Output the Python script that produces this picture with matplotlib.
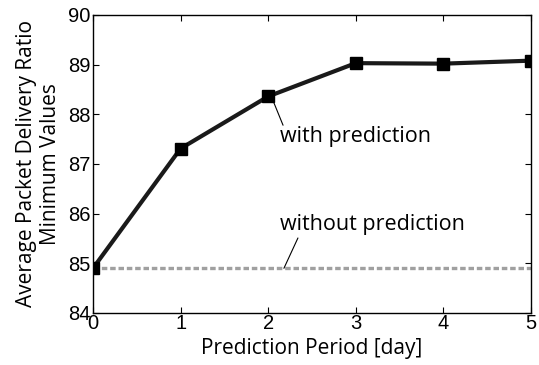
import numpy as np
import matplotlib
matplotlib.use('Agg')
import matplotlib.pyplot as plt

# prediction period vs. minimum delivery ratio
period = [0, 1, 2, 3, 4, 5]
with_pred = [84.9, 87.31, 88.36, 89.03, 89.02, 89.08]
without_pred = 84.9

fig = plt.figure(figsize=(5.39, 3.65), dpi=100)
ax = fig.add_axes([0.1725, 0.1425, 0.8125, 0.8165])

ax.axhline(without_pred, color='#a0a0a0', lw=2.4, ls=(0, (1.65, 0.85)), zorder=2)
ax.plot(period, with_pred, color='#1a1a1a', lw=3, marker='s', ms=9,
        markerfacecolor='black', markeredgecolor='black', zorder=3)

ax.set_xlim(0, 5)
ax.set_ylim(84, 90)
ax.set_xticks(period)
ax.set_yticks(np.arange(84, 91, 1))
ax.tick_params(direction='in', top=True, right=True, length=4, labelsize=14.5)
ax.tick_params(axis='x', pad=1)
ax.tick_params(axis='y', pad=2)
for lab in ax.get_xticklabels() + ax.get_yticklabels():
    lab.set_family('Liberation Sans')

ax.set_xlabel('Prediction Period [day]', fontsize=15, family='Open Sans', labelpad=3)
ax.set_ylabel('Average Packet Delivery Ratio\nMinimum Values', fontsize=15,
              family='Open Sans', linespacing=1.15, labelpad=5)

# leader lines and their labels
ax.annotate('', xy=(2.05, 88.3), xytext=(2.17, 87.78),
            arrowprops=dict(arrowstyle='-', color='black', lw=0.8, shrinkA=0, shrinkB=0))
ax.text(2.13, 87.55, 'with prediction', fontsize=15.5, family='Open Sans',
        ha='left', va='center')
ax.annotate('', xy=(2.18, without_pred), xytext=(2.34, 85.51),
            arrowprops=dict(arrowstyle='-', color='black', lw=0.8, shrinkA=0, shrinkB=0))
ax.text(2.13, 85.79, 'without prediction', fontsize=15.5, family='Open Sans',
        ha='left', va='center')

for s in ax.spines.values():
    s.set_linewidth(1.0)

fig.savefig('out.png', dpi=100)
